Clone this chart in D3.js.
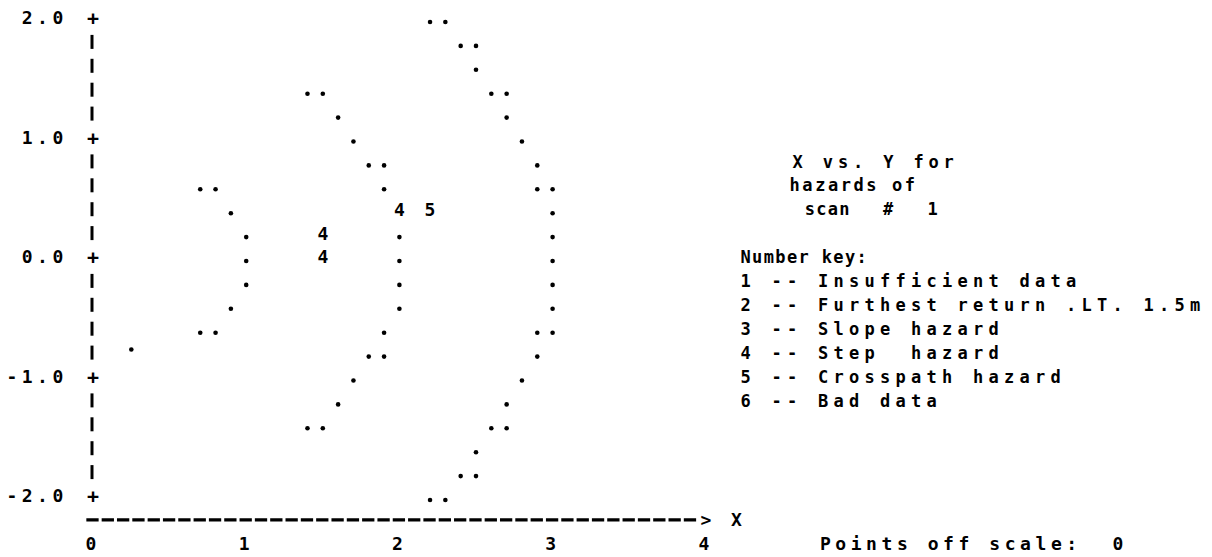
<!DOCTYPE html>
<html>
<head>
<meta charset="utf-8">
<script src="https://cdn.jsdelivr.net/npm/d3@7"></script>
<style>
  html, body { margin: 0; padding: 0; background: #fff; }
  svg text {
    font-family: "DejaVu Sans Mono", "Liberation Mono", monospace;
    font-weight: bold;
    fill: #000;
    white-space: pre;
  }
</style>
</head>
<body>
<svg id="chart" width="1212" height="557"></svg>
<script>
// Scan boundary samples, plotted as "." (X, Y in metres)
const boundaryX = [
  0.7, 0.8, 0.9, 1.0, 1.0, 1.0, 0.9, 0.7, 0.8, 0.25,
  1.4, 1.5, 1.6, 1.7, 1.8, 1.9, 1.9, 2.0, 2.0, 2.0, 2.0, 1.9, 1.8, 1.9, 1.7, 1.6, 1.4, 1.5,
  2.2, 2.3, 2.4, 2.5, 2.5, 2.6, 2.7, 2.7, 2.8, 2.9, 2.9, 3.0, 3.0, 3.0, 3.0, 3.0, 3.0,
  2.9, 3.0, 2.9, 2.8, 2.7, 2.6, 2.7, 2.5, 2.4, 2.5, 2.2, 2.3
];
const boundaryY = [
  0.6, 0.6, 0.4, 0.2, 0.0, -0.2, -0.4, -0.6, -0.6, -0.74,
  1.4, 1.4, 1.2, 1.0, 0.8, 0.8, 0.6, 0.2, 0.0, -0.2, -0.4, -0.6, -0.8, -0.8, -1.0, -1.2, -1.4, -1.4,
  2.0, 2.0, 1.8, 1.8, 1.6, 1.4, 1.4, 1.2, 1.0, 0.8, 0.6, 0.6, 0.4, 0.2, 0.0, -0.2, -0.4,
  -0.6, -0.6, -0.8, -1.0, -1.2, -1.4, -1.4, -1.6, -1.8, -1.8, -2.0, -2.0
];

// Hazard cells, plotted with their key number
const hazardX = [2.0, 1.5, 1.5, 2.2];
const hazardY = [0.4, 0.2, 0.0, 0.4];
const hazardCode = ["4", "4", "4", "5"];

// Axis ticks
const yTickValues = [2, 1, 0, -1, -2];
const yTickLabels = ["2.0", "1.0", "0.0", "-1.0", "-2.0"];
const xTickValues = [0, 1, 2, 3, 4];
const xTickLabels = ["0", "1", "2", "3", "4"];

// Side text
const titleLine1 = "X vs. Y for";
const titleLine2 = "hazards of";
const scanWord = "scan";
const scanHash = "#";
const scanNumber = "1";
const keyHeading = "Number key:";
const keyLines = [
  "1 -- Insufficient data",
  "2 -- Furthest return .LT. 1.5m",
  "3 -- Slope hazard",
  "4 -- Step  hazard",
  "5 -- Crosspath hazard",
  "6 -- Bad data"
];
const offScaleText = "Points off scale:  0";

// ---- character-cell layout ----
const pitch = 15.32;   // column width
const rowH = 23.9;     // line height
const fontSize = 18;
const adv = 0.602 * fontSize;   // monospace glyph advance
const rowsPerUnit = 5, colsPerUnit = 10;

const svg = d3.select("#chart");

const x = d3.scaleLinear().domain([0, 4]).range([93, 93 + 4 * colsPerUnit * pitch]);
const y = d3.scaleLinear().domain([2, -2]).range([18, 18 + 4 * rowsPerUnit * rowH]);

const colX = c => x(0) + c * pitch;
const rowY = r => y(2) + r * rowH;

// Write a string on the grid: first glyph centred on column c, glyphs step by p
function put(str, c, r, size = fontSize, p = pitch) {
  const a = 0.602 * size;
  svg.append("text")
    .attr("x", colX(c) - a / 2)
    .attr("y", rowY(r))
    .attr("dy", "0.36em")
    .style("font-size", size + "px")
    .style("letter-spacing", (p - a) + "px")
    .text(str);
}

// ---- Y axis: "+" at labelled ticks, bars between ----
const yGrid = d3.range(0, 4 * rowsPerUnit + 1).map(r => 2 - r / rowsPerUnit);
const axisG = svg.append("g");
axisG.selectAll("line.ybar")
  .data(yGrid.filter(v => !yTickValues.some(t => Math.abs(t - v) < 1e-9)))
  .join("line")
  .attr("class", "ybar")
  .attr("x1", x(0) - 1).attr("x2", x(0) - 1)
  .attr("y1", d => y(d) - 7).attr("y2", d => y(d) + 7)
  .attr("stroke", "#000").attr("stroke-width", 3);

axisG.selectAll("text.plus")
  .data(yTickValues)
  .join("text")
  .attr("class", "plus")
  .attr("x", x(0)).attr("y", d => y(d))
  .attr("dy", "0.36em")
  .attr("text-anchor", "middle")
  .style("font-size", "20px")
  .text("+");

axisG.selectAll("text.ylab")
  .data(yTickValues)
  .join("text")
  .attr("class", "ylab")
  .attr("x", x(0) - 2 * pitch + adv / 2)
  .attr("y", d => y(d))
  .attr("dy", "0.36em")
  .attr("text-anchor", "end")
  .style("font-size", fontSize + "px")
  .style("letter-spacing", (pitch - adv) + "px")
  .text((d, i) => yTickLabels[i]);

// ---- X axis: dashed rule with arrow ----
const axisRow = y(-2) + rowH;
axisG.append("line")
  .attr("x1", x(0) - pitch / 2 + 1)
  .attr("x2", x(4) - pitch / 2)
  .attr("y1", axisRow).attr("y2", axisRow)
  .attr("stroke", "#000").attr("stroke-width", 3.2)
  .attr("stroke-dasharray", "12.3 3.02");

axisG.append("text")
  .attr("x", x(4)).attr("y", axisRow)
  .attr("dy", "0.36em").attr("text-anchor", "middle")
  .style("font-size", fontSize + "px")
  .text(">");
axisG.append("text")
  .attr("x", x(4) + 2 * pitch).attr("y", axisRow)
  .attr("dy", "0.36em").attr("text-anchor", "middle")
  .style("font-size", fontSize + "px")
  .text("X");

axisG.selectAll("text.xlab")
  .data(xTickValues)
  .join("text")
  .attr("class", "xlab")
  .attr("x", d => x(d) - 2)
  .attr("y", axisRow + rowH)
  .attr("dy", "0.36em")
  .attr("text-anchor", "middle")
  .style("font-size", fontSize + "px")
  .text((d, i) => xTickLabels[i]);

// ---- points ----
const boundary = boundaryX.map((v, i) => ({ x: v, y: boundaryY[i] }));
const dotDrop = 4;   // "." sits on the baseline of its cell
svg.append("g").selectAll("circle")
  .data(boundary)
  .join("circle")
  .attr("cx", d => x(d.x))
  .attr("cy", d => y(d.y) + dotDrop)
  .attr("r", 2.3)
  .attr("fill", "#000");

const hazards = hazardX.map((v, i) => ({ x: v, y: hazardY[i], code: hazardCode[i] }));
svg.append("g").selectAll("text")
  .data(hazards)
  .join("text")
  .attr("x", d => x(d.x))
  .attr("y", d => y(d.y))
  .attr("dy", "0.36em")
  .attr("text-anchor", "middle")
  .style("font-size", fontSize + "px")
  .text(d => d.code);

// ---- side panel ----
const sideSize = 17;
put(titleLine1, 46, 6, sideSize, 15.1);
put(titleLine2, 45.8, 7, sideSize, 12.8);
put(scanWord, 46.8, 8, sideSize, 11.5);
put(scanHash, 51.9, 8, sideSize);
put(scanNumber, 54.8, 8, sideSize);
put(keyHeading, 42.6, 10, sideSize, 11.6);
keyLines.forEach((s, i) => put(s, 42.6, 11 + i, sideSize, 15.5));
put(offScaleText, 47.8, 22, fontSize, 15.4);
</script>
</body>
</html>
